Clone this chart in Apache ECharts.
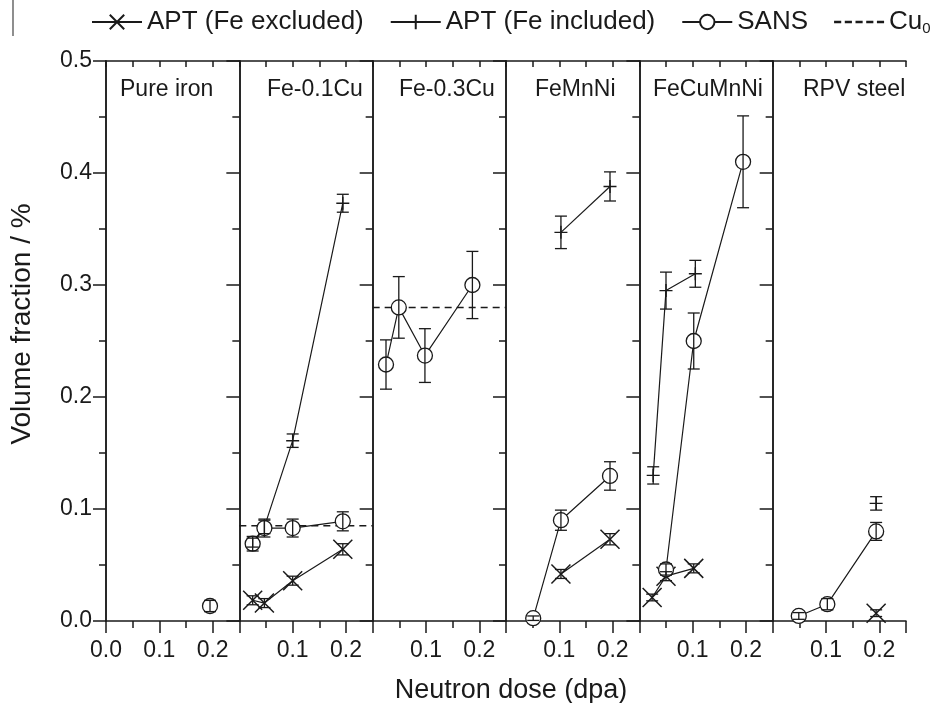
<!DOCTYPE html>
<html>
<head>
<meta charset="utf-8">
<script src="https://cdn.jsdelivr.net/npm/echarts@6/dist/echarts.min.js"></script>
<style>
  html, body { margin: 0; padding: 0; background: #fff; }
  #chart { width: 936px; height: 703px; }
</style>
</head>
<body>
<div id="chart"></div>
<script>
// panels, left to right
var panels = ['Pure iron', 'Fe-0.1Cu', 'Fe-0.3Cu', 'FeMnNi', 'FeCuMnNi', 'RPV steel'];

// [dose (dpa), volume fraction (%), error] per panel
var aptExcl = [
    [],
    [[0.025, 0.0185, 0.004], [0.047, 0.016, 0.004], [0.1, 0.036, 0.004], [0.194, 0.064, 0.005]],
    [],
    [[0.103, 0.042, 0.004], [0.195, 0.073, 0.005]],
    [[0.024, 0.021, 0.003], [0.05, 0.040, 0.004], [0.102, 0.047, 0.004]],
    [[0.194, 0.007, 0.003]]
];
var aptIncl = [
    [],
    [[0.025, 0.070, 0.004], [0.047, 0.084, 0.006], [0.1, 0.161, 0.006], [0.194, 0.373, 0.008]],
    [],
    [[0.103, 0.347, 0.0145], [0.195, 0.388, 0.013]],
    [[0.026, 0.130, 0.0077], [0.05, 0.295, 0.0165], [0.105, 0.310, 0.012]],
    [[0.194, 0.105, 0.006]]
];
var sans = [
    [[0.195, 0.0134, 0.005]],
    [[0.025, 0.069, 0.0065], [0.047, 0.083, 0.008], [0.1, 0.083, 0.008], [0.194, 0.089, 0.0085]],
    [[0.025, 0.229, 0.022], [0.049, 0.280, 0.0275], [0.098, 0.237, 0.024], [0.187, 0.300, 0.030]],
    [[0.051, 0.0025, 0.002], [0.103, 0.090, 0.009], [0.195, 0.1295, 0.0127]],
    [[0.05, 0.046, 0.005], [0.102, 0.250, 0.025], [0.1945, 0.410, 0.041]],
    [[0.049, 0.0045, 0.003], [0.1025, 0.015, 0.005], [0.194, 0.080, 0.008]]
];
// Cu0 level (null = not shown)
var cu0 = [null, 0.085, 0.28, null, null, null];

var xMax = 0.25;
var yMax = 0.5;

var FONT = 'Liberation Sans, Arial, sans-serif';
var INK = '#1a1a1a';

var myChart = echarts.init(document.getElementById('chart'));

var L = 106, T = 61, W = 800 / 6, H = 560;
// where each panel label starts (px)
var titleLeft = [115, 262, 394, 530, 648, 798];

var grid = [], xAxis = [], yAxis = [], series = [], title = [];

var symX = 'path://M0,0L10,10M10,0L0,10';
var symPlus = 'path://M0,5L10,5M5,0L5,10';
var iconDash = 'path://M0,0h6v2h-6zM9,0h6v2h-6zM18,0h6v2h-6zM27,0h6v2h-6zM36,0h6v2h-6z';

function fmtX(first) {
    return function (v) {
        if (Math.abs(v - 0.25) < 1e-6) return '';
        if (!first && Math.abs(v) < 1e-6) return '';
        return v.toFixed(1);
    };
}

function errBars(data, i) {
    return {
        type: 'custom',
        xAxisIndex: 3 * i,
        yAxisIndex: 2 * i,
        z: 4,
        silent: true,
        data: data,
        encode: { x: 0, y: 1 },
        renderItem: function (params, api) {
            var x = api.value(0), y = api.value(1), e = api.value(2);
            var a = api.coord([x, y + e]);
            var b = api.coord([x, y - e]);
            var hw = 6;
            var st = { stroke: INK, lineWidth: 1.3 };
            return {
                type: 'group',
                children: [
                    { type: 'line', shape: { x1: a[0], y1: a[1], x2: b[0], y2: b[1] }, style: st },
                    { type: 'line', shape: { x1: a[0] - hw, y1: a[1], x2: a[0] + hw, y2: a[1] }, style: st },
                    { type: 'line', shape: { x1: b[0] - hw, y1: b[1], x2: b[0] + hw, y2: b[1] }, style: st }
                ]
            };
        }
    };
}

function xy(arr) {
    return arr.map(function (d) { return [d[0], d[1]]; });
}

for (var i = 0; i < panels.length; i++) {
    var left = L + i * W;
    grid.push({ left: left, top: T, width: W, height: H });

    // bottom major ticks + labels
    xAxis.push({
        gridIndex: i, type: 'value', position: 'bottom', min: 0, max: xMax, interval: 0.1,
        axisLine: { show: true, lineStyle: { color: INK, width: 1.5 } },
        axisTick: { show: true, length: 12, lineStyle: { color: INK, width: 1.5 } },
        axisLabel: { show: true, margin: 18, fontFamily: FONT, fontSize: 23, color: INK, formatter: fmtX(i === 0) },
        splitLine: { show: false }
    });
    // bottom minor ticks
    xAxis.push({
        gridIndex: i, type: 'value', position: 'bottom', min: 0, max: xMax, interval: 0.05,
        axisLine: { show: false },
        axisTick: { show: true, length: 7, lineStyle: { color: INK, width: 1.5 } },
        axisLabel: { show: false },
        splitLine: { show: false }
    });
    // top mirror
    xAxis.push({
        gridIndex: i, type: 'value', position: 'top', min: 0, max: xMax, interval: 0.05,
        axisLine: { show: true, lineStyle: { color: INK, width: 1.5 } },
        axisTick: { show: true, inside: true, length: 6, lineStyle: { color: INK, width: 1.5 } },
        axisLabel: { show: false },
        splitLine: { show: false }
    });

    // left axis (labels only on first panel)
    yAxis.push({
        gridIndex: i, type: 'value', position: 'left', min: 0, max: yMax, interval: 0.1,
        name: i === 0 ? 'Volume fraction / %' : '',
        nameLocation: 'middle', nameGap: 70,
        nameTextStyle: { fontFamily: FONT, fontSize: 28, color: INK, padding: [0, 0, 0, 34] },
        axisLine: { show: true, lineStyle: { color: INK, width: 1.5 } },
        axisTick: { show: i === 0, length: 11, lineStyle: { color: INK, width: 1.5 } },
        minorTick: { show: i === 0, splitNumber: 2, length: 6, lineStyle: { color: INK, width: 1.5 } },
        axisLabel: { show: i === 0, margin: 14, fontFamily: FONT, fontSize: 23, color: INK,
            formatter: function (v) { return v.toFixed(1); } },
        splitLine: { show: false }
    });
    // right axis with inward ticks
    yAxis.push({
        gridIndex: i, type: 'value', position: 'right', min: 0, max: yMax, interval: 0.1,
        axisLine: { show: true, lineStyle: { color: INK, width: 1.5 } },
        axisTick: { show: true, inside: true, length: 13, lineStyle: { color: INK, width: 1.5 } },
        minorTick: { show: true, splitNumber: 2, length: 7, lineStyle: { color: INK, width: 1.5 } },
        axisLabel: { show: false },
        splitLine: { show: false }
    });

    title.push({
        text: panels[i],
        left: titleLeft[i],
        top: 73,
        textStyle: { fontFamily: FONT, fontSize: 23, fontWeight: 'normal', color: INK }
    });

    var common = {
        type: 'line', xAxisIndex: 3 * i, yAxisIndex: 2 * i,
        lineStyle: { color: INK, width: 1.2 },
        emphasis: { disabled: true },
        z: 3
    };

    if (aptExcl[i].length) {
        series.push(Object.assign({}, common, {
            name: 'APT (Fe excluded)', data: xy(aptExcl[i]),
            symbol: symX, symbolSize: 19,
            itemStyle: { color: '#fff', borderColor: INK, borderWidth: 1.5 }
        }));
        series.push(errBars(aptExcl[i], i));
    }
    if (aptIncl[i].length) {
        series.push(Object.assign({}, common, {
            name: 'APT (Fe included)', data: xy(aptIncl[i]),
            symbol: symPlus, symbolSize: 13,
            itemStyle: { color: '#fff', borderColor: INK, borderWidth: 1.4 }
        }));
        series.push(errBars(aptIncl[i], i));
    }
    if (sans[i].length) {
        series.push(Object.assign({}, common, {
            name: 'SANS', data: xy(sans[i]),
            symbol: 'circle', symbolSize: 15,
            itemStyle: { color: '#fff', borderColor: INK, borderWidth: 1.3 }
        }));
        series.push(errBars(sans[i], i));
    }
    if (cu0[i] !== null) {
        series.push(Object.assign({}, common, {
            name: 'Cu0', data: [[0, cu0[i]], [xMax, cu0[i]]],
            symbol: 'none', z: 2,
            lineStyle: { color: INK, width: 1.5, type: [7, 5] },
            itemStyle: { color: INK }
        }));
    }
}

// x axis title
title.push({
    text: 'Neutron dose (dpa)',
    left: 506, top: 672, textAlign: 'center',
    textStyle: { fontFamily: FONT, fontSize: 27, fontWeight: 'normal', color: INK }
});

var option = {
    animation: false,
    backgroundColor: '#fff',
    title: title,
    legend: {
        left: 86, top: 4,
        itemWidth: 50, itemHeight: 18, itemGap: 26,
        data: [
            'APT (Fe excluded)',
            'APT (Fe included)',
            'SANS',
            { name: 'Cu0', icon: iconDash, itemStyle: { color: INK } }
        ],
        textStyle: {
            fontFamily: FONT, fontSize: 26, color: INK,
            rich: {
                a: { fontFamily: FONT, fontSize: 26, color: INK },
                s: { fontFamily: FONT, fontSize: 15, color: INK, padding: [13, 0, 0, 0] }
            }
        },
        formatter: function (name) {
            return name === 'Cu0' ? '{a|Cu}{s|0}' : name;
        }
    },
    grid: grid,
    xAxis: xAxis,
    yAxis: yAxis,
    graphic: [{
        type: 'line', shape: { x1: 13, y1: 0, x2: 13, y2: 36 },
        style: { stroke: '#444', lineWidth: 1.2 }
    }],
    series: series
};

myChart.setOption(option);
</script>
</body>
</html>
